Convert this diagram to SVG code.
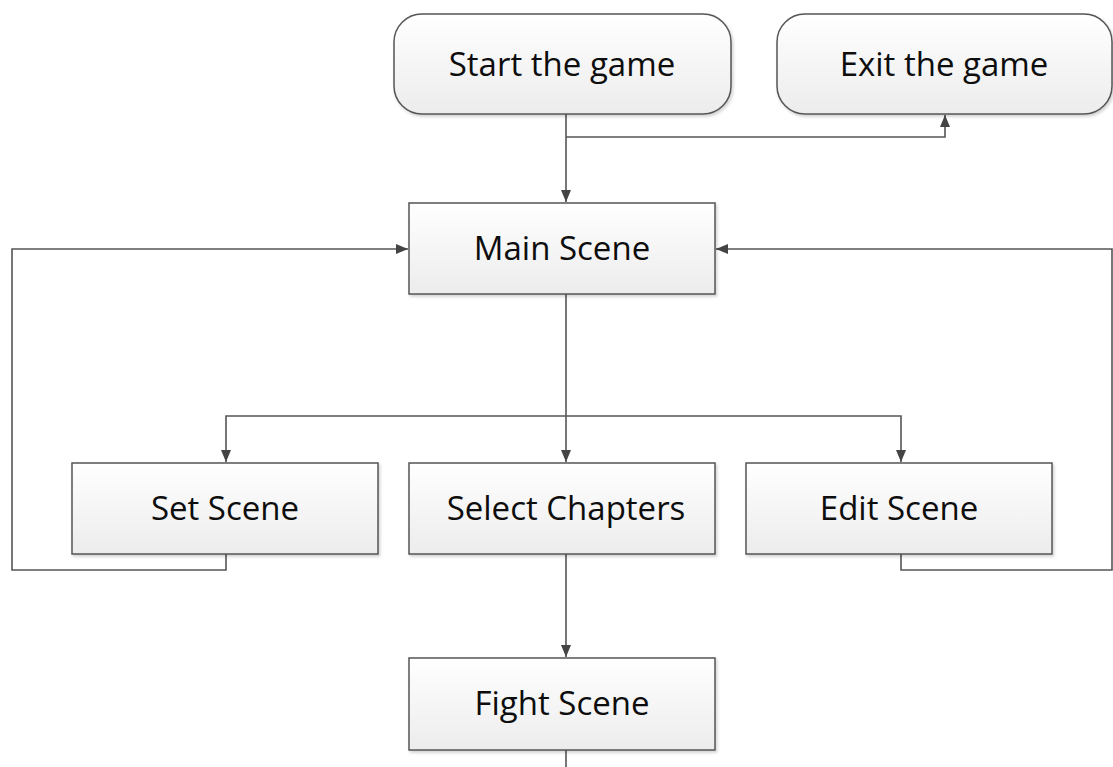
<svg xmlns="http://www.w3.org/2000/svg" width="1113" height="767" viewBox="0 0 1113 767">
  <style>
    .box { fill: url(#boxFill); stroke: #555; stroke-width: 1.5; filter: url(#shadow); }
    .label { font-family: "Open Sans", "Noto Sans", sans-serif; font-size: 33px; fill: #0d0d0d; text-anchor: middle; }
    .wire { fill: none; stroke: #555; stroke-width: 1.6; }
  </style>
  <defs>
    <linearGradient id="boxFill" x1="0" y1="0" x2="0" y2="1">
      <stop offset="0" stop-color="#ffffff"/>
      <stop offset="1" stop-color="#ececec"/>
    </linearGradient>
    <filter id="shadow" x="-5%" y="-5%" width="112%" height="120%">
      <feDropShadow dx="1.5" dy="2" stdDeviation="1.5" flood-color="#000" flood-opacity="0.18"/>
    </filter>
    <marker id="arrow" viewBox="0 0 12 10" refX="12" refY="5" markerWidth="12" markerHeight="10" markerUnits="userSpaceOnUse" orient="auto">
      <path d="M0,0 L12,5 L0,10 Z" fill="#444"/>
    </marker>
  </defs>

  <rect width="1113" height="767" fill="#ffffff"/>

  <!-- connectors -->
  <g id="connectors">
    <path class="wire" d="M566,114 V202" marker-end="url(#arrow)"/>
    <path class="wire" d="M566,137 H945 V115" marker-end="url(#arrow)"/>
    <path class="wire" d="M566,294 V462" marker-end="url(#arrow)"/>
    <path class="wire" d="M566,416 H226 V462" marker-end="url(#arrow)"/>
    <path class="wire" d="M566,416 H901 V462" marker-end="url(#arrow)"/>
    <path class="wire" d="M226,554 V570 H12 V249 H408" marker-end="url(#arrow)"/>
    <path class="wire" d="M901,554 V570 H1112 V249 H716" marker-end="url(#arrow)"/>
    <path class="wire" d="M566,554 V657" marker-end="url(#arrow)"/>
    <path class="wire" d="M566,750 V767"/>
  </g>

  <g id="start">
    <rect class="box" x="394" y="14" width="337" height="100" rx="28" ry="28"/>
    <text class="label" x="562" y="76">Start the game</text>
  </g>
  <g id="exit">
    <rect class="box" x="777" y="14" width="335" height="100" rx="28" ry="28"/>
    <text class="label" x="944" y="76">Exit the game</text>
  </g>
  <g id="main-scene">
    <rect class="box" x="409" y="203" width="306" height="91"/>
    <text class="label" x="562" y="260">Main Scene</text>
  </g>
  <g id="set-scene">
    <rect class="box" x="72" y="463" width="306" height="91"/>
    <text class="label" x="225" y="520">Set Scene</text>
  </g>
  <g id="select-chapters">
    <rect class="box" x="409" y="463" width="306" height="91"/>
    <text class="label" x="566" y="520">Select Chapters</text>
  </g>
  <g id="edit-scene">
    <rect class="box" x="746" y="463" width="306" height="91"/>
    <text class="label" x="899" y="520">Edit Scene</text>
  </g>
  <g id="fight-scene">
    <rect class="box" x="409" y="658" width="306" height="92"/>
    <text class="label" x="562" y="715">Fight Scene</text>
  </g>
</svg>
